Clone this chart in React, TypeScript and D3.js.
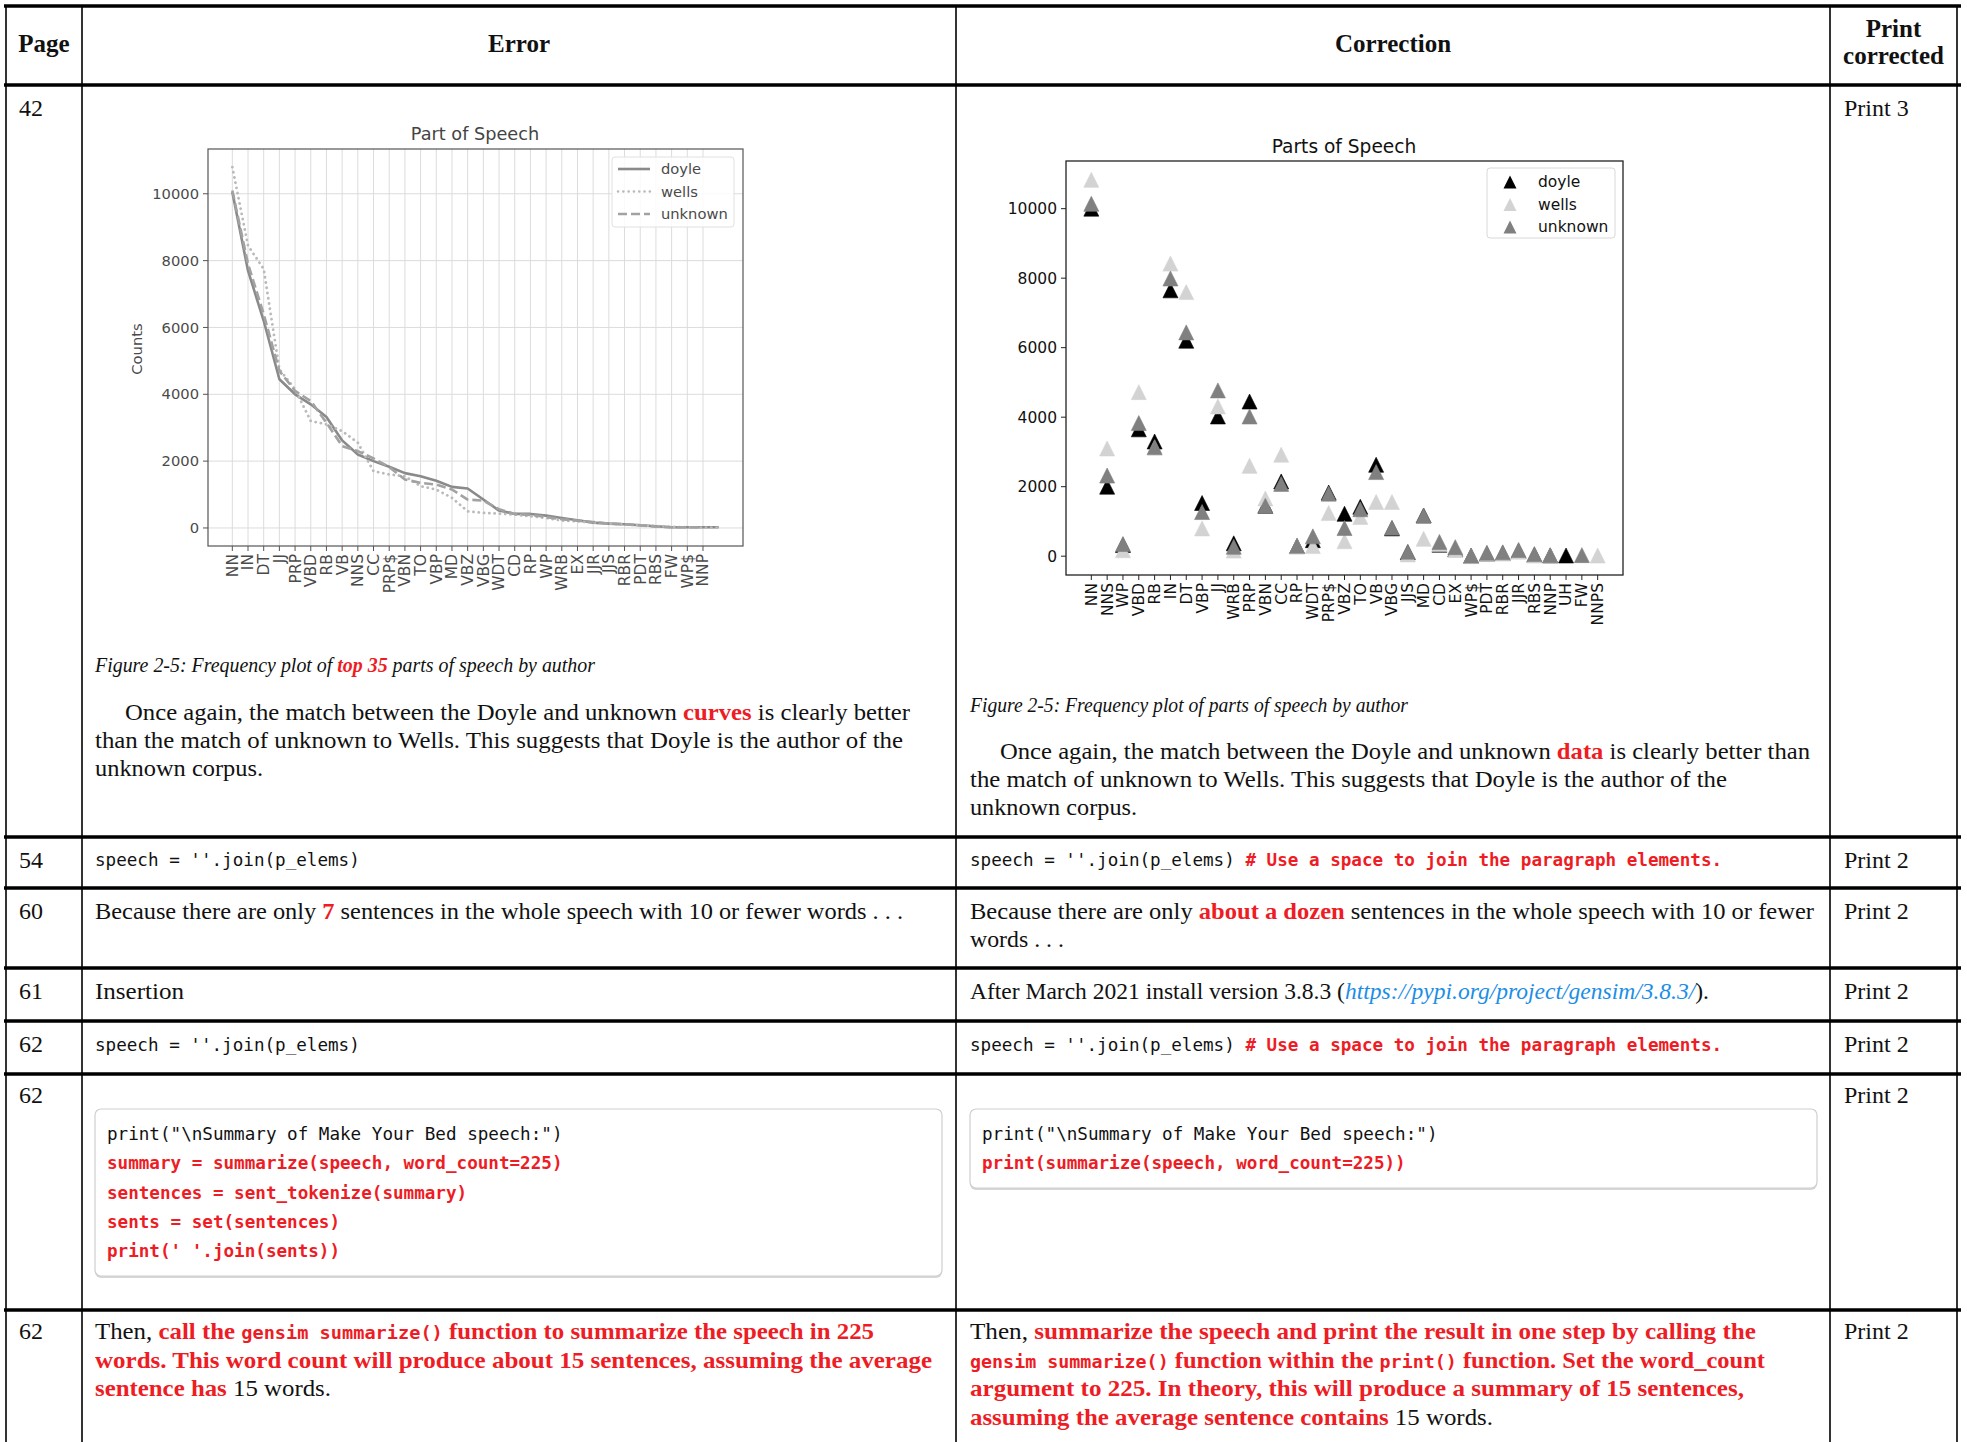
import React, { useEffect } from "react";
import * as d3 from "d3";

// ---------- Left chart (Error): Part of Speech, line plot ----------
const leftCategories = ["NN","IN","DT","JJ","PRP","VBD","RB","VB","NNS","CC","PRP$","VBN","TO","VBP","MD","VBZ","VBG","WDT","CD","RP","WP","WRB","EX","JJR","JJS","RBR","PDT","RBS","FW","WP$","NNP"];
const leftDoyle = [10050,7700,6200,4450,4000,3700,3320,2620,2200,2000,1830,1640,1550,1410,1230,1180,850,520,420,420,370,300,230,160,130,110,80,50,20,20,20,20];
const leftWells = [10800,8450,7750,4750,4150,3200,3100,2900,2550,1700,1600,1550,1250,1150,900,500,450,430,400,350,300,220,200,160,130,100,80,60,30,20,10,10];
const leftUnknown = [10100,7900,6400,4700,4100,3800,3150,2450,2300,2080,1820,1450,1350,1300,1150,850,820,560,420,390,330,260,220,180,130,110,80,40,20,20,20];
const leftYTicks = [0, 2000, 4000, 6000, 8000, 10000];

// ---------- Right chart (Correction): Parts of Speech, triangle markers ----------
const rightCategories = ["NN","NNS","WP","VBD","RB","IN","DT","VBP","JJ","WRB","PRP","VBN","CC","RP","WDT","PRP$","VBZ","TO","VB","VBG","JJS","MD","CD","EX","WP$","PDT","RBR","JJR","RBS","NNP","UH","FW","NNPS"];
const rightDoyle = [10000,2000,320,3650,3300,7650,6200,1530,4020,370,4450,1450,2150,290,460,1830,1220,1420,2630,800,110,1170,330,200,10,70,90,150,40,20,20,null,null];
const rightWells = [10830,3100,170,4720,3120,8420,7600,800,4310,160,2600,1660,2920,280,290,1240,430,1130,1560,1560,50,500,350,180,0,60,80,130,20,10,null,null,20];
const rightUnknown = [10140,2320,350,3830,3140,7990,6440,1270,4770,270,4020,1450,2080,300,570,1800,810,1350,2420,820,130,1170,410,260,20,100,110,180,60,30,null,30,null];
const rightYTicks = [0, 2000, 4000, 6000, 8000, 10000];

// ---------- Table ----------
const headers = ["Page", "Error", "Correction"];
const pages = ["42", "54", "60", "61", "62", "62", "62"];
const prints = ["Print 3", "Print 2", "Print 2", "Print 2", "Print 2", "Print 2", "Print 2"];

const SERIF = "'Liberation Serif', 'Times New Roman', serif";
const MONO = "'DejaVu Sans Mono', 'Liberation Mono', monospace";
const SANS = "'DejaVu Sans', 'Liberation Sans', sans-serif";
const RED = "#ee1c24";
const BLUE = "#1c8ee6";
const INK = "#111";

type Run = { t: string; red?: boolean; i?: boolean; mono?: boolean; blue?: boolean };
type TLine = { x: number; y: number; runs: Run[]; w?: number; size?: number };

const codeJoin = "speech = ''.join(p_elems)";
const codeComment = "# Use a space to join the paragraph elements.";
const codeLeftBox = [
  { t: 'print("\\nSummary of Make Your Bed speech:")', red: false },
  { t: "summary = summarize(speech, word_count=225)", red: true },
  { t: "sentences = sent_tokenize(summary)", red: true },
  { t: "sents = set(sentences)", red: true },
  { t: "print(' '.join(sents))", red: true },
];
const codeRightBox = [
  { t: 'print("\\nSummary of Make Your Bed speech:")', red: false },
  { t: "print(summarize(speech, word_count=225))", red: true },
];

const textLines: TLine[] = [
  // row 1 left
  { x: 95, y: 672, size: 20, w: 500, runs: [{ t: "Figure 2-5: Frequency plot of ", i: true }, { t: "top 35", i: true, red: true }, { t: " parts of speech by author", i: true }] },
  { x: 125, y: 720, w: 785, runs: [{ t: "Once again, the match between the Doyle and unknown " }, { t: "curves", red: true }, { t: " is clearly better" }] },
  { x: 95, y: 748, w: 808, runs: [{ t: "than the match of unknown to Wells. This suggests that Doyle is the author of the" }] },
  { x: 95, y: 776, w: 168, runs: [{ t: "unknown corpus." }] },
  // row 1 right
  { x: 970, y: 712, size: 20, w: 438, runs: [{ t: "Figure 2-5: Frequency plot of parts of speech by author", i: true }] },
  { x: 1000, y: 759, w: 810, runs: [{ t: "Once again, the match between the Doyle and unknown " }, { t: "data", red: true }, { t: " is clearly better than" }] },
  { x: 970, y: 787, w: 757, runs: [{ t: "the match of unknown to Wells. This suggests that Doyle is the author of the" }] },
  { x: 970, y: 815, w: 167, runs: [{ t: "unknown corpus." }] },
  // row 3
  { x: 95, y: 919, w: 808, runs: [{ t: "Because there are only " }, { t: "7", red: true }, { t: " sentences in the whole speech with 10 or fewer words . . ." }] },
  { x: 970, y: 919, w: 844, runs: [{ t: "Because there are only " }, { t: "about a dozen", red: true }, { t: " sentences in the whole speech with 10 or fewer" }] },
  { x: 970, y: 947, w: 94, runs: [{ t: "words . . ." }] },
  // row 4
  { x: 95, y: 999, w: 89, runs: [{ t: "Insertion" }] },
  { x: 970, y: 999, w: 739, runs: [{ t: "After March 2021 install version 3.8.3 (" }, { t: "https://pypi.org/project/gensim/3.8.3/", i: true, blue: true }, { t: ")." }] },
  // row 7 left
  { x: 95, y: 1339, w: 779, runs: [{ t: "Then, " }, { t: "call the ", red: true }, { t: "gensim summarize()", red: true, mono: true }, { t: " function to summarize the speech in 225", red: true }] },
  { x: 95, y: 1368, w: 837, runs: [{ t: "words. This word count will produce about 15 sentences, assuming the average", red: true }] },
  { x: 95, y: 1396, w: 236, runs: [{ t: "sentence has", red: true }, { t: " 15 words." }] },
  // row 7 right
  { x: 970, y: 1339, w: 786, runs: [{ t: "Then, " }, { t: "summarize the speech and print the result in one step by calling the", red: true }] },
  { x: 970, y: 1368, w: 795, runs: [{ t: "gensim summarize()", red: true, mono: true }, { t: " function within the ", red: true }, { t: "print()", red: true, mono: true }, { t: " function. Set the word_count", red: true }] },
  { x: 970, y: 1396, w: 774, runs: [{ t: "argument to 225. In theory, this will produce a summary of 15 sentences,", red: true }] },
  { x: 970, y: 1425, w: 523, runs: [{ t: "assuming the average sentence contains", red: true }, { t: " 15 words." }] },
];

const colX = [6, 82, 956, 1830, 1957];
const rowY = [6, 85, 837, 888, 968, 1021, 1074, 1310];
const rowTextY = [116, 868, 919, 999, 1052, 1103, 1339];

function TextLine({ l }: { l: TLine }) {
  const size = l.size ?? 23.5;
  return (
    <text x={l.x} y={l.y} fontFamily={SERIF} fontSize={size} style={{ whiteSpace: "pre" }}
      textLength={l.w} lengthAdjust={l.w ? "spacingAndGlyphs" : undefined}>
      {l.runs.map((r, k) => (
        <tspan key={k} fill={r.red ? RED : r.blue ? BLUE : INK}
          fontWeight={r.red ? 700 : 400} fontStyle={r.i ? "italic" : "normal"}
          fontFamily={r.mono ? MONO : SERIF} fontSize={r.mono ? 17.6 : size}>{r.t}</tspan>
      ))}
    </text>
  );
}

function tri(cx: number, cy: number, s: number) {
  const h = s / 2;
  return `M${cx},${cy - h}L${cx + h},${cy + h}L${cx - h},${cy + h}Z`;
}

function LeftChart() {
  const x = d3.scaleLinear().domain([-1.55, 32.55]).range([208, 743]);
  const y = d3.scaleLinear().domain([-540, 11340]).range([546, 149]);
  const line = d3.line<number>().x((_, i) => x(i)).y((d) => y(d));
  const c = "#555";
  const series = [
    { name: "doyle", data: leftDoyle, color: "#8a8a8a", dash: undefined as string | undefined, cap: "butt" },
    { name: "wells", data: leftWells, color: "#bababa", dash: "0.1,5.2", cap: "round" },
    { name: "unknown", data: leftUnknown, color: "#a2a2a2", dash: "9,4", cap: "butt" },
  ];
  return (
    <g fontFamily={SANS}>
      <text x={475} y={140} textAnchor="middle" fontSize={17.7} fill="#444">Part of Speech</text>
      {leftCategories.map((_, i) => (
        <line key={"gx" + i} x1={x(i)} x2={x(i)} y1={149} y2={546} stroke="#dcdcdc" strokeWidth={1} />
      ))}
      {leftYTicks.map((t) => (
        <line key={"gy" + t} x1={208} x2={743} y1={y(t)} y2={y(t)} stroke="#dcdcdc" strokeWidth={1} />
      ))}
      {series.map((s) => (
        <path key={s.name} d={line(s.data) || ""} fill="none" stroke={s.color} strokeWidth={s.name === "wells" ? 2.8 : 2.6}
          strokeDasharray={s.dash} strokeLinecap={s.cap as any} strokeLinejoin="round" />
      ))}
      <rect x={208} y={149} width={535} height={397} fill="none" stroke={c} strokeWidth={1.2} />
      {leftYTicks.map((t) => (
        <g key={"yt" + t}>
          <line x1={203} x2={208} y1={y(t)} y2={y(t)} stroke={c} />
          <text x={199} y={y(t)} dy="0.35em" textAnchor="end" fontSize={14.7} fill="#4a4a4a">{t}</text>
        </g>
      ))}
      {leftCategories.map((cat, i) => (
        <g key={"xt" + i}>
          <line x1={x(i)} x2={x(i)} y1={546} y2={551} stroke={c} />
          <text transform={`translate(${x(i)},${554}) rotate(-90)`} textAnchor="end" dy="0.35em" fontSize={15.5} fill="#4a4a4a">{cat}</text>
        </g>
      ))}
      <text transform="translate(137,349) rotate(-90)" textAnchor="middle" dy="0.35em" fontSize={14.7} fill="#4a4a4a">Counts</text>
      <rect x={612} y={157} width={122} height={70} rx={3} fill="#fff" fillOpacity={0.85} stroke="#e0e0e0" />
      {series.map((s, k) => (
        <g key={"lg" + s.name}>
          <line x1={618} x2={650} y1={169 + k * 22.5} y2={169 + k * 22.5} stroke={s.color} strokeWidth={2.6}
            strokeDasharray={s.dash} strokeLinecap={s.cap as any} />
          <text x={661} y={169 + k * 22.5} dy="0.35em" fontSize={14.7} fill="#4a4a4a">{s.name}</text>
        </g>
      ))}
    </g>
  );
}

function RightChart() {
  const x = d3.scaleLinear().domain([-1.6, 33.6]).range([1066, 1623]);
  const y = d3.scaleLinear().domain([-541.5, 11371.5]).range([575, 161]);
  const c = "#222";
  const series = [
    { name: "doyle", data: rightDoyle, color: "#000000" },
    { name: "wells", data: rightWells, color: "#d3d3d3" },
    { name: "unknown", data: rightUnknown, color: "#808080" },
  ];
  return (
    <g fontFamily={SANS}>
      <text x={1344} y={153} textAnchor="middle" fontSize={18.6} fill="#111">Parts of Speech</text>
      {series.map((s) => (
        <g key={s.name}>
          {s.data.map((v, i) => v == null ? null : (
            <path key={i} d={tri(x(i), y(v), 15)} fill={s.color} stroke={s.color} strokeWidth={0.6} />
          ))}
        </g>
      ))}
      <rect x={1066} y={161} width={557} height={414} fill="none" stroke={c} strokeWidth={1.3} />
      {rightYTicks.map((t) => (
        <g key={"yt" + t}>
          <line x1={1061} x2={1066} y1={y(t)} y2={y(t)} stroke={c} />
          <text x={1057} y={y(t)} dy="0.35em" textAnchor="end" fontSize={15.5} fill="#111">{t}</text>
        </g>
      ))}
      {rightCategories.map((cat, i) => (
        <g key={"xt" + i}>
          <line x1={x(i)} x2={x(i)} y1={575} y2={580} stroke={c} />
          <text transform={`translate(${x(i)},${583}) rotate(-90)`} textAnchor="end" dy="0.35em" fontSize={15.5} fill="#111">{cat}</text>
        </g>
      ))}
      <rect x={1487} y={168} width={128} height={70} rx={3} fill="#fff" fillOpacity={0.85} stroke="#d8d8d8" />
      {series.map((s, k) => (
        <g key={"lg" + s.name}>
          <path d={tri(1510, 182 + k * 22.5, 13)} fill={s.color} />
          <text x={1538} y={182 + k * 22.5} dy="0.35em" fontSize={15.5} fill="#111">{s.name}</text>
        </g>
      ))}
    </g>
  );
}

function CodeBox({ x, y, w, h, lines }: { x: number; y: number; w: number; h: number; lines: { t: string; red: boolean }[] }) {
  return (
    <g>
      <rect x={x} y={y + 2} width={w} height={h} rx={6} fill="#d6d6d6" />
      <rect x={x} y={y} width={w} height={h} rx={6} fill="#fff" stroke="#cfcfcf" strokeWidth={1.2} />
      {lines.map((l, k) => (
        <text key={k} x={x + 12} y={y + 31 + k * 29.3} fontFamily={MONO} fontSize={17.6}
          fill={l.red ? RED : INK} fontWeight={l.red ? 700 : 400} style={{ whiteSpace: "pre" }}>{l.t}</text>
      ))}
    </g>
  );
}

export default function App() {
  useEffect(() => {
    document.body.style.margin = "0";
    document.body.style.overflow = "hidden";
  }, []);
  const H = 1442;
  return (
    <svg width={1967} height={H} style={{ position: "absolute", left: 0, top: 0, background: "#fff" }}>
      <rect x={0} y={0} width={1967} height={H} fill="#fff" />
      {headers.map((h, k) => (
        <text key={h} x={(colX[k] + colX[k + 1]) / 2} y={52} textAnchor="middle" fontFamily={SERIF} fontWeight={700} fontSize={25} fill={INK}>{h}</text>
      ))}
      <text x={(colX[3] + colX[4]) / 2} y={37} textAnchor="middle" fontFamily={SERIF} fontWeight={700} fontSize={25} fill={INK}>Print</text>
      <text x={(colX[3] + colX[4]) / 2} y={64} textAnchor="middle" fontFamily={SERIF} fontWeight={700} fontSize={25} fill={INK}>corrected</text>

      {pages.map((p, k) => (
        <text key={"p" + k} x={19} y={rowTextY[k]} fontFamily={SERIF} fontSize={24} fill={INK}>{p}</text>
      ))}
      {prints.map((p, k) => (
        <text key={"pr" + k} x={1844} y={rowTextY[k]} fontFamily={SERIF} fontSize={24} fill={INK}>{p}</text>
      ))}

      <LeftChart />
      <RightChart />

      {textLines.map((l, k) => <TextLine key={k} l={l} />)}

      {[866, 1051].map((yy) => (
        <g key={"code" + yy}>
          <text x={95} y={yy} fontFamily={MONO} fontSize={17.6} fill={INK} style={{ whiteSpace: "pre" }}>{codeJoin}</text>
          <text x={970} y={yy} fontFamily={MONO} fontSize={17.6} fill={INK} style={{ whiteSpace: "pre" }}>
            {codeJoin + " "}<tspan fill={RED} fontWeight={700}>{codeComment}</tspan>
          </text>
        </g>
      ))}
      <CodeBox x={95} y={1109} w={847} h={167} lines={codeLeftBox} />
      <CodeBox x={970} y={1109} w={847} h={79} lines={codeRightBox} />

      {rowY.map((yy) => (
        <line key={"h" + yy} x1={4} x2={1961} y1={yy} y2={yy} stroke="#000" strokeWidth={3.6} />
      ))}
      {colX.map((xx) => (
        <line key={"v" + xx} x1={xx} x2={xx} y1={5} y2={H} stroke="#000" strokeWidth={1.6} />
      ))}
    </svg>
  );
}
